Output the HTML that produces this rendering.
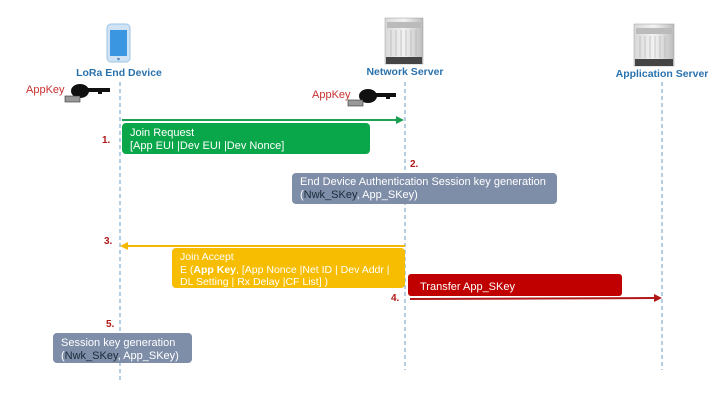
<!DOCTYPE html>
<html><head><meta charset="utf-8"><style>
html,body{margin:0;padding:0;background:#fff}
svg{display:block}
text{font-family:"Liberation Sans",sans-serif}
</style></head><body>
<svg width="725" height="418" viewBox="0 0 725 418" xmlns="http://www.w3.org/2000/svg">
<rect width="725" height="418" fill="#fff"/>
<defs>
<linearGradient id="srv" x1="0" x2="1"><stop offset="0" stop-color="#d8d8d8"/><stop offset="0.5" stop-color="#f2f2f2"/><stop offset="1" stop-color="#bdbdbd"/></linearGradient>
</defs>
<!-- lifelines -->
<g stroke="#6a9cc8" stroke-width="1" stroke-dasharray="4,3" fill="none">
<line x1="120" y1="82" x2="120" y2="382"/>
<line x1="405" y1="82" x2="405" y2="370"/>
<line x1="662" y1="82" x2="662" y2="370"/>
</g>
<!-- phone -->
<rect x="107" y="24" width="23" height="38" rx="4" fill="#cfe3f5" stroke="#9cc3e6"/>
<rect x="110" y="30" width="17" height="26" fill="#3a96e0"/>
<circle cx="118.5" cy="59" r="1.3" fill="#5a8ab8"/>
<!-- servers -->
<g>
<rect x="385" y="18" width="38" height="46" fill="url(#srv)" stroke="#999" stroke-width="0.5"/>
<rect x="387" y="22" width="34" height="6" fill="#bbb"/>
<g stroke="#aaa" stroke-width="0.6"><line x1="391" y1="30" x2="391" y2="56"/><line x1="396" y1="30" x2="396" y2="56"/><line x1="401" y1="30" x2="401" y2="56"/><line x1="406" y1="30" x2="406" y2="56"/><line x1="411" y1="30" x2="411" y2="56"/><line x1="416" y1="30" x2="416" y2="56"/></g>
<rect x="386" y="57" width="36" height="7" fill="#444"/>
</g>
<g>
<rect x="634" y="24" width="40" height="42" fill="url(#srv)" stroke="#999" stroke-width="0.5"/>
<rect x="636" y="28" width="36" height="6" fill="#bbb"/>
<g stroke="#aaa" stroke-width="0.6"><line x1="640" y1="36" x2="640" y2="58"/><line x1="645" y1="36" x2="645" y2="58"/><line x1="650" y1="36" x2="650" y2="58"/><line x1="655" y1="36" x2="655" y2="58"/><line x1="660" y1="36" x2="660" y2="58"/><line x1="665" y1="36" x2="665" y2="58"/></g>
<rect x="635" y="59" width="38" height="7" fill="#444"/>
</g>
<g font-size="10.5" font-weight="bold" fill="#2a72ad" text-anchor="middle">
<text x="119" y="76">LoRa End Device</text>
<text x="405" y="75">Network Server</text>
<text x="662" y="77">Application Server</text>
</g>
<!-- keys -->
<g fill="#c83030" font-size="11"><text x="26" y="93">AppKey</text><text x="312" y="98">AppKey</text></g>
<g fill="#111">
<ellipse cx="80" cy="91" rx="9" ry="7"/><rect x="84" y="88" width="26" height="4"/><rect x="98" y="88" width="4" height="6"/>
<rect x="65" y="96" width="15" height="6" fill="#999" stroke="#333" stroke-width="0.6"/>
<ellipse cx="368" cy="96" rx="9" ry="7"/><rect x="372" y="93" width="24" height="4"/><rect x="386" y="93" width="4" height="6"/>
<rect x="348" y="100" width="15" height="6" fill="#999" stroke="#333" stroke-width="0.6"/>
</g>
<!-- numbers -->
<g fill="#b01818" font-size="10" font-weight="bold">
<text x="102" y="143">1.</text><text x="410" y="167">2.</text><text x="104" y="244">3.</text><text x="391" y="301">4.</text><text x="106" y="327">5.</text>
</g>
<!-- green -->
<line x1="122" y1="120" x2="398" y2="120" stroke="#1aa050" stroke-width="2"/>
<polygon points="404,120 396,116 396,124" fill="#1aa050"/>
<rect x="122" y="123" width="248" height="31" rx="4" fill="#0aa64a"/>
<g fill="#fff" font-size="11"><text x="130" y="136">Join Request</text><text x="130" y="149">[App EUI |Dev EUI |Dev Nonce]</text></g>
<!-- gray 2 -->
<rect x="292" y="173" width="265" height="31" rx="4" fill="#7f8ea8"/>
<g fill="#fff" font-size="11"><text x="300" y="185">End Device Authentication Session key generation</text><text x="300" y="198">(<tspan fill="#1a2a3a">Nwk_SKey</tspan>, App_SKey)</text></g>
<!-- yellow -->
<line x1="126" y1="246" x2="405" y2="246" stroke="#f5b800" stroke-width="2"/>
<polygon points="120,246 128,242 128,250" fill="#f5b800"/>
<rect x="172" y="248" width="233" height="40" rx="4" fill="#f7bd00"/>
<g fill="#fff" font-size="10.5"><text x="180" y="260">Join Accept</text><text x="180" y="273">E (<tspan font-weight="bold">App Key</tspan>, [App Nonce |Net ID | Dev Addr |</text><text x="180" y="285"><tspan>DL Setting</tspan> | Rx Delay |CF List] )</text></g>
<!-- red -->
<rect x="408" y="274" width="214" height="22" rx="3" fill="#c00000"/>
<text x="420" y="290" fill="#fff" font-size="11">Transfer  App_SKey</text>
<line x1="410" y1="299" x2="654" y2="298" stroke="#b01818" stroke-width="2"/>
<polygon points="662,298 654,294 654,302" fill="#b01818"/>
<!-- gray 5 -->
<rect x="53" y="333" width="139" height="30" rx="4" fill="#7f8ea8"/>
<g fill="#fff" font-size="11"><text x="61" y="346">Session key generation</text><text x="61" y="359">(<tspan fill="#1a2a3a">Nwk_SKey</tspan>, App_SKey)</text></g>
</svg>
</body></html>
